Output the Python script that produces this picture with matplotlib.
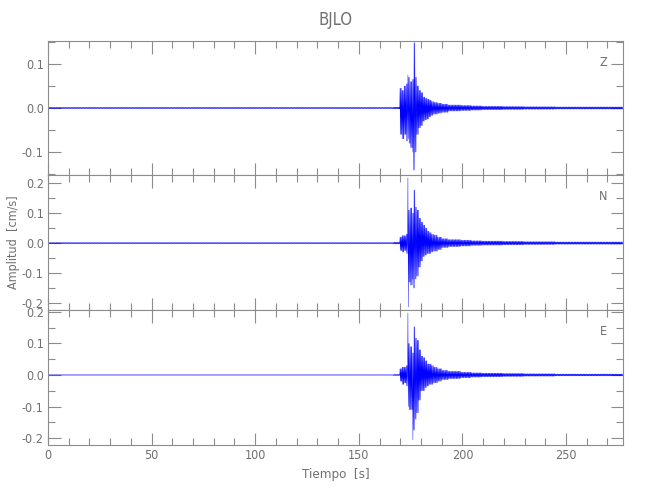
import matplotlib
matplotlib.use("Agg")
import matplotlib.pyplot as plt
import numpy as np
from matplotlib.ticker import MultipleLocator, FormatStrFormatter

# bin edges (s) of the envelope
edges = [0, 166.8, 169.9, 170.9, 171.9, 172.9, 173.7, 174.1, 174.9, 175.9, 176.5, 177.2, 178.0,
         179.0, 180.0, 181.0, 182.0, 183.0, 184.0, 185.0, 186.1, 188.1, 190.1, 193.2, 199.2,
         204.3, 209.4, 219.5, 229.6, 244.8, 277.5]

# upper / lower envelope per bin (cm/s)
z_up = [0.0015, 0.002, 0.045, 0.04, 0.05, 0.055, 0.075, 0.07, 0.06, 0.065, 0.148, 0.07, 0.05,
        0.04, 0.035, 0.025, 0.022, 0.02, 0.018, 0.015, 0.013, 0.011, 0.009, 0.007,
        0.006, 0.005, 0.004, 0.0035, 0.003, 0.0025]
z_lo = [-0.0015, -0.002, -0.06, -0.07, -0.06, -0.075, -0.07, -0.08, -0.09, -0.10, -0.141, -0.10, -0.06,
        -0.045, -0.04, -0.03, -0.027, -0.025, -0.02, -0.017, -0.014, -0.012, -0.01, -0.007,
        -0.006, -0.005, -0.004, -0.0035, -0.003, -0.0025]

n_up = [0.002, 0.003, 0.02, 0.025, 0.025, 0.03, 0.217, 0.11, 0.117, 0.10, 0.177, 0.12, 0.11,
        0.083, 0.07, 0.06, 0.05, 0.04, 0.035, 0.03, 0.027, 0.02, 0.015, 0.012,
        0.01, 0.008, 0.007, 0.006, 0.005, 0.004]
n_lo = [-0.002, -0.003, -0.025, -0.03, -0.025, -0.035, -0.213, -0.13, -0.14, -0.12, -0.15, -0.12, -0.11,
        -0.08, -0.06, -0.045, -0.04, -0.035, -0.035, -0.03, -0.027, -0.022, -0.015, -0.012,
        -0.01, -0.008, -0.007, -0.006, -0.005, -0.004]

e_up = [0.001, 0.002, 0.02, 0.025, 0.025, 0.03, 0.197, 0.10, 0.09, 0.07, 0.153, 0.117, 0.11,
        0.08, 0.06, 0.055, 0.045, 0.035, 0.035, 0.03, 0.025, 0.02, 0.015, 0.012,
        0.009, 0.007, 0.006, 0.005, 0.004, 0.003]
e_lo = [-0.001, -0.002, -0.02, -0.03, -0.025, -0.035, -0.10, -0.11, -0.11, -0.206, -0.175, -0.14, -0.12,
        -0.08, -0.05, -0.05, -0.04, -0.035, -0.03, -0.03, -0.025, -0.02, -0.015, -0.012,
        -0.009, -0.007, -0.006, -0.005, -0.004, -0.003]

comps = ["Z", "N", "E"]
traces = [(z_up, z_lo), (n_up, n_lo), (e_up, e_lo)]
ylims = [(-0.152, 0.152), (-0.223, 0.227), (-0.222, 0.206)]

gray = "#8c8c8c"
tgray = "#707070"
plt.rcParams['font.family'] = ['DejaVu Sans']
plt.rcParams['font.stretch'] = 'condensed'
plt.rcParams['axes.unicode_minus'] = False


def zigzag(edges, up, lo, step=0.18):
    xs, ys = [], []
    k = 0
    for i in range(len(up)):
        a, b = edges[i], edges[i + 1]
        n = max(2, int(round((b - a) / step)))
        for x in np.linspace(a, b, n, endpoint=False):
            xs.append(x)
            ys.append(up[i] if k % 2 == 0 else lo[i])
            k += 1
    return xs, ys


fig = plt.figure(figsize=(6.5, 5), dpi=100)
W, H = 650.0, 500.0
L, R = 48, 623
tops = [41, 175, 310]
bots = [175, 310, 445]
axes = []
for j in range(3):
    ax = fig.add_axes([L / W, 1 - bots[j] / H, (R - L) / W, (bots[j] - tops[j]) / H])
    xs, ys = zigzag(edges, traces[j][0], traces[j][1])
    ax.plot(xs, ys, color="#0000ff", lw=0.3)
    ax.set_xlim(0, 277.5)
    ax.set_ylim(*ylims[j])
    ax.xaxis.set_major_locator(MultipleLocator(50))
    ax.xaxis.set_minor_locator(MultipleLocator(10))
    ax.yaxis.set_major_locator(MultipleLocator(0.1))
    ax.yaxis.set_minor_locator(MultipleLocator(0.05))
    ax.tick_params(which="both", direction="in", top=True, right=True, color=gray,
                   labelcolor=tgray, labelsize=9, width=0.8, pad=3)
    ax.tick_params(which="major", length=9)
    ax.tick_params(which="minor", length=5)
    ax.yaxis.set_major_formatter(FormatStrFormatter("%.1f"))
    for s in ax.spines.values():
        s.set_color(gray)
        s.set_linewidth(0.8)
    if j < 2:
        ax.tick_params(labelbottom=False)
    ax.text(0.966, 0.84, comps[j], transform=ax.transAxes, color=tgray, fontsize=9,
            ha="center", va="center")
    axes.append(ax)

axes[2].set_xlabel("Tiempo  [s]", color=tgray, fontsize=9.5, labelpad=4)
fig.text((L + R) / 2 / W, 1 - 20 / H, "BJLO", ha="center", va="center", color=tgray, fontsize=12)
fig.text(14 / W, 1 - 242 / H, "Amplitud  [cm/s]", ha="center", va="center", rotation=90,
         color=tgray, fontsize=9)

plt.savefig("out.png", dpi=100)
